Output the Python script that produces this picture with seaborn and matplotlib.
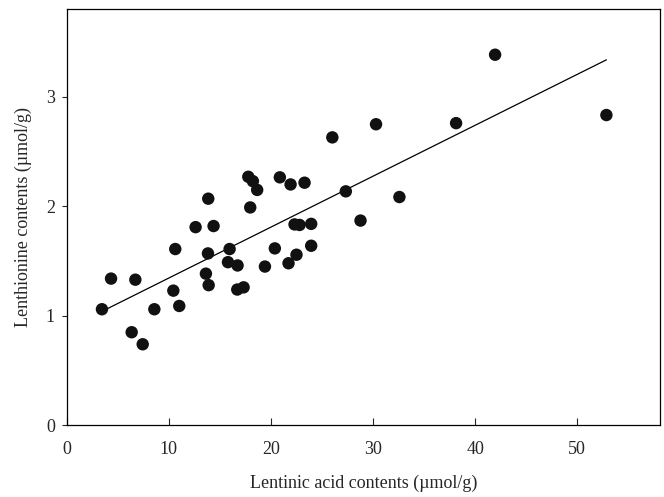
import matplotlib
matplotlib.use("Agg")
import matplotlib.pyplot as plt
import seaborn as sns
import pandas as pd

# Lentinic acid vs. lenthionine contents per sample (µmol/g)
lentinic_acid = [3.45, 4.34, 6.72, 6.36, 7.44, 8.58, 10.44, 11.02, 10.63, 12.62,
                 13.86, 14.38, 13.83, 13.63, 13.90, 15.95, 15.79, 16.73, 16.70, 17.32,
                 17.97, 17.78, 18.23, 18.65, 20.87, 21.92, 23.29, 27.33, 28.77, 22.31,
                 22.80, 23.94, 20.38, 23.94, 22.50, 21.72, 19.41, 26.01, 30.29, 38.13,
                 41.95, 52.85, 32.58]
lenthionine = [1.06, 1.34, 1.33, 0.85, 0.74, 1.06, 1.23, 1.09, 1.61, 1.81,
               2.07, 1.82, 1.57, 1.385, 1.28, 1.61, 1.49, 1.46, 1.24, 1.26,
               1.99, 2.27, 2.23, 2.15, 2.265, 2.20, 2.216, 2.137, 1.87, 1.835,
               1.83, 1.84, 1.616, 1.64, 1.558, 1.48, 1.45, 2.63, 2.75, 2.76,
               3.385, 2.834, 2.085]

x_ticks = [0, 10, 20, 30, 40, 50]
y_ticks = [0, 1, 2, 3]

df = pd.DataFrame({"acid": lentinic_acid, "lenthionine": lenthionine})

sns.set_style("white")
plt.rcParams["font.family"] = ["Liberation Serif", "DejaVu Serif"]

fig = plt.figure(figsize=(6.64, 4.97), dpi=100)
ax = fig.add_axes([0.1005, 0.1443, 0.8935, 0.837])

sns.regplot(data=df, x="acid", y="lenthionine", ax=ax, ci=None, truncate=True,
            scatter_kws=dict(s=80, color="#111111", alpha=1, edgecolor="none", zorder=3),
            line_kws=dict(color="black", linewidth=0.9))

ax.set_xlim(0, 58.1)
ax.set_ylim(0, 3.8)
ax.set_xticks(x_ticks)
ax.set_yticks(y_ticks)
ax.tick_params(axis="x", direction="in", length=5, width=0.8, labelsize=13, pad=11)
ax.tick_params(axis="y", direction="out", length=3.5, width=0.8, labelsize=13, pad=5)
ax.tick_params(bottom=True, left=True)
for sp in ax.spines.values():
    sp.set_visible(True)
    sp.set_color("black")
    sp.set_linewidth(0.9)

ax.set_xlabel("Lentinic acid contents (µmol/g)", fontsize=13, labelpad=12)
ax.set_ylabel("Lenthionine contents (µmol/g)", fontsize=13, labelpad=10)

fig.savefig("out.png", dpi=100)
